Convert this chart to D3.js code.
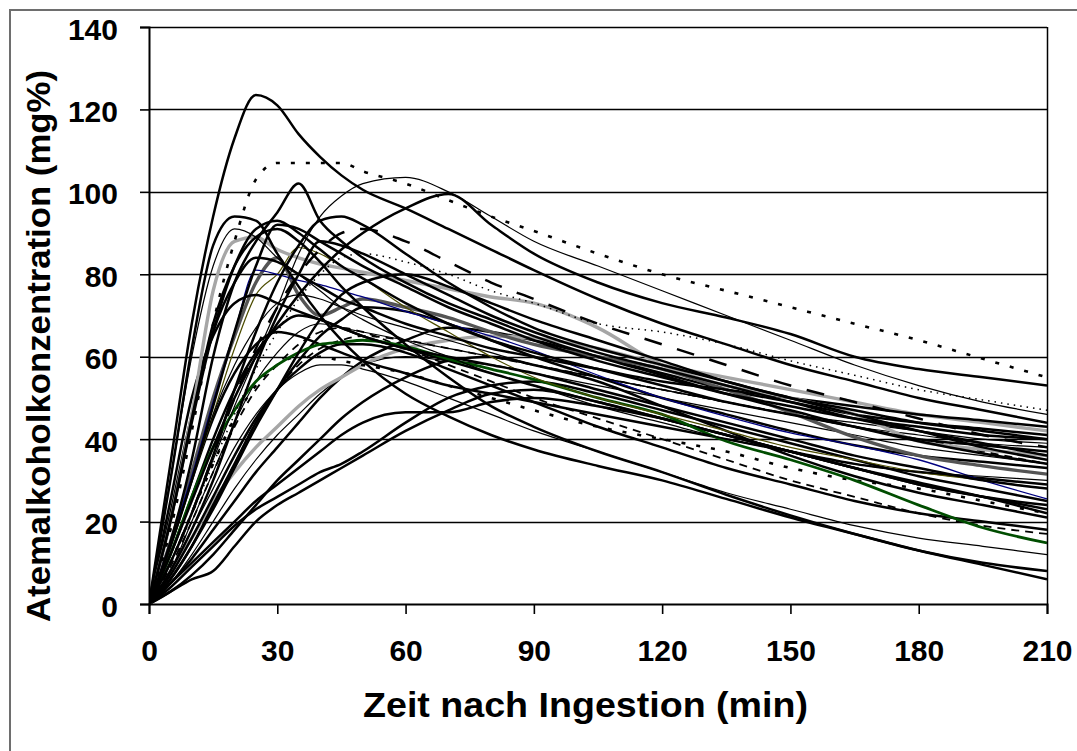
<!DOCTYPE html>
<html><head><meta charset="utf-8">
<script src="https://cdn.jsdelivr.net/npm/d3@7"></script>
<style>body{margin:0;background:#fff}svg{display:block}</style>
</head><body>
<svg id="chart" width="1077" height="751"></svg>
<script>
// ---- data ----
const times = [0,5,10,15,20,25,30,35,40,45,50,60,70,80,90,105,120,135,150,165,180,195,210];
const xTickValues = [0,30,60,90,120,150,180,210];
const yTickValues = [0,20,40,60,80,100,120,140];
const xTitle = "Zeit nach Ingestion (min)";
const yTitle = "Atemalkoholkonzentration (mg%)";

const s01 = [0,34,68,94,113,123.5,121,114,108.5,104,100.5,96,91,86,81,74,68,63,58,54,50,47,44];
const s02 = [0,18,42,68,88,103,107,107,107,107,105,102,98,94,90.5,85,80,76,72,68,64,59.5,55];
const s03 = [0,12,25,38,50,60,68,75,81,86,90,96,99.5,92,85,78,73,69.5,65.5,60,57,55,53];
const s04 = [0,10,22,35,48,60,72,85,94,99,102,103.5,100,94,88,82,76,70,64,58,53,49,46];
const s05 = [0,15,35,60,78,88,95,102,93,88,84,78,73,69,65,60,55.5,51,47,43,39.5,36.5,34];
const s06 = [0,30,62,87,94,93,85,77,70,64,59,51,45.5,41,37.5,33.5,30,25.5,21,17,13,9.5,6];
const s07 = [0,20,45,68,82,89,91,88,83,77,72,63,55,48,43,37,32,26.5,21.5,17,13,10,8];
const s08 = [0,20,46,76,88,89,86,84,82.5,81.5,80.5,78.5,76.5,74.5,73,67,58,53,50,46,39.5,37.5,36];
const s09 = [0,8,16,25,32,38,43,48,52,55,58,62,64,65,64.5,62,58,55,52,49,46,44,42];
const s10 = [0,15,32,50,65,78,84,75,70,72,74,72,69.5,66,63,60,57,52,46.5,40.5,36,33.5,31.5];
const s11 = [0,15,31,49,66,81,80,78.5,77.5,76,74.5,71,68,65,61.5,55.5,50,45.5,41.5,38.5,35,30,25.5];
const s12 = [0,12,26,38,47,54,58,61,63,63.5,64,62.5,59.5,57,54.5,50,46,39.5,35,30,24,18.5,14.8];
const s13 = [0,14,30,46,62,75,80,86.5,85,82,79,72,66,60,55,50,46,42,38,35,32,30,28];
const s14 = [0,14,30,48,66,82,92,91,88,85,82,77,72,68,64,59,55,51,48,45,43,41,40];
const s15 = [0,8,18,30,44,58,70,80,88,87,85,80,75,70,66,61,57,53,49,45,42,39,36];
const s16 = [0,10,22,36,52,66,78,87,93,94,92,85,78,72,67,62,58,54,50,47,44,42,40];
const s17 = [0,6,14,23,33,43,52,61,69,75,78,80,77,73,69,64,59,54,50,46,42,38,35];
const s18 = [0,12,26,40,52,61,67,70,69,67,65,62,59,56,53,49,45,41,37,33,29,26,24];
const s19 = [0,25,50,65,73,75,73,71,69,67,65,62,60,58,56,52,48,44,40,36,33,30,28];
const s20 = [0,8,20,32,44,54,61,66,68,67,66,64,62,60,58,55,52,49,46,43,41,39,38];
const s21 = [0,5,12,20,28,35,41,46,51,55,58,60,59,58,56,53,50,47,44,41,38,36,34];
const s22 = [0,10,22,36,50,62,72,80,86,90,91,88,83,78,74,68,63,58,53,49,45,41,38];
const s23 = [0,6,14,24,34,44,52,58,62,64,65,64,62,60,58,55,52,49,46,43,40,37,34];
const s24 = [0,10,22,34,46,57,66,74,80,84,85,83,80,76,73,68,66,63,59,55.5,52,49.5,47];
const s25 = [0,10,22,34,45,53,58,60,60,59,58,56,53,50,47,43,40,37,33,30,28,25,22];
const s26 = [0,9,20,32,43,52,58,63,66,67,66,62,58,54,50,45,40,35,30,26,22,19,17];
const s27 = [0,22,46,66,78,84,83,80,77,74,72,68,65,62,60,57,54,52,50,48,46,44.5,43];
const s28 = [0,5,11,18,25,32,38,44,50,55,59,64,67,66,64,60,56,52,49,46,44,42.5,41];
const s29 = [0,6,14,24,34,44,52,59,65,69,72,71,68,64,60,55,50,46,42,38.5,36,34.5,33];
const s30 = [0,14,30,45,56,63,66,65,63,61,59,56,53,51,49,46,43,40,37,34,32,30.5,29];
const s31 = [0,3,7,12,18,24,30,35,40,45,49,55,59,60,58,54,48,42,36,31,27,24,21];
const s32 = [0,7,16,26,36,45,52,57,61,63,63,61,57,53,49,43,38,33,29,25,22,20,18];
const s33 = [0,8,18,28,38,46,52,56,58,58,57,54,50,46,42,37,32,27,23,19,16,14,12];
const s34 = [0,14,30,46,58,67,73,75,74,72,70,67,64,61,58,55,52,49,46,44,42,40,39];
const s35 = [0,4,9,14,19,23,26,29,32,34,37,44,50,53,54,51,47,43,39,35,31,28,25];
const s36 = [0,30,60,82,91,89,84,80,76,72,69,64,60,56,53,48,44,40,37,34,32,31,30];
const s37 = [0,20,44,66,82,91,93,90,86,82,79,73,68,64,61,57,53,49,46,43,40,38.5,37];
const s38 = [0,5,10,15,20,25,29,33,37,41,44,46.5,46.5,49,50,48,45,41,37,33,29.5,26,22];
const s39 = [0,3,6,8,14,20,24,27,30,33,36,42,47,51,52,49,45,41,37,33,29,26,23];

// ---- styles (not data) ----
const styles = {
  k2:   {stroke:"#000", w:2.5, dash:null},
  k1:   {stroke:"#000", w:1.2, dash:null},
  dot:  {stroke:"#000", w:2.6, dash:"4,11"},
  fdot: {stroke:"#000", w:1.5, dash:"1.5,5"},
  dash: {stroke:"#000", w:2.5, dash:"18,16"},
  sdash:{stroke:"#000", w:1.8, dash:"8,6"},
  gray: {stroke:"#a6a6a6", w:3.4, dash:null},
  dgray:{stroke:"#555555", w:3.4, dash:null},
  blue: {stroke:"#000080", w:1.3, dash:null},
  green:{stroke:"#004d00", w:2.8, dash:null},
  olive:{stroke:"#4d4d00", w:1.2, dash:null}
};
const series = [
  [s35,"k2"],[s39,"k2"],[s38,"k2"],[s31,"k2"],[s28,"k2"],[s21,"k1"],[s33,"k1"],
  [s09,"gray"],[s25,"dot"],[s26,"sdash"],[s23,"sdash"],[s32,"k2"],[s29,"k2"],
  [s20,"k1"],[s18,"k2"],[s30,"k2"],[s12,"green"],[s10,"dgray"],[s13,"olive"],
  [s11,"blue"],[s19,"k2"],[s34,"k1"],[s27,"k2"],[s08,"gray"],[s17,"k2"],
  [s15,"k2"],[s22,"dash"],[s24,"fdot"],[s14,"k2"],[s16,"k2"],[s37,"k2"],
  [s36,"k1"],[s07,"k2"],[s06,"k2"],[s05,"k2"],[s04,"k1"],[s03,"k2"],[s02,"dot"],[s01,"k2"]
];

// ---- chart ----
const svg = d3.select("#chart");
const FONT = "'Liberation Sans', Arial, sans-serif";
const L = 149, R = 1047, T = 27, B = 604;
const x = d3.scaleLinear().domain([0,210]).range([L,R]);
const y = d3.scaleLinear().domain([0,140]).range([B,T]);

svg.append("rect").attr("x",10).attr("y",10).attr("width",1200).attr("height",900)
  .attr("fill","#fff").attr("stroke","#6e6e6e").attr("stroke-width",2);

// gridlines
svg.append("g").selectAll("line").data(yTickValues.filter(d=>d>0)).join("line")
  .attr("x1",L).attr("x2",R).attr("y1",d=>Math.round(y(d))+0.5).attr("y2",d=>Math.round(y(d))+0.5)
  .attr("stroke","#000").attr("stroke-width",1.3);

// lines
const clipId = "plotclip";
svg.append("clipPath").attr("id",clipId).append("rect").attr("x",L).attr("y",T-5).attr("width",R-L).attr("height",B-T+5);
const lineGen = d3.line().x((d,i)=>x(times[i])).y(d=>y(d)).curve(d3.curveMonotoneX);
const gl = svg.append("g").attr("clip-path",`url(#${clipId})`);
series.forEach(([vals,st])=>{
  const s = styles[st];
  gl.append("path").attr("d",lineGen(vals)).attr("fill","none")
    .attr("stroke",s.stroke).attr("stroke-width",s.w)
    .attr("stroke-dasharray",s.dash).attr("stroke-linejoin","round");
});

// right border
svg.append("line").attr("x1",R+0.5).attr("x2",R+0.5).attr("y1",T).attr("y2",B)
  .attr("stroke","#000").attr("stroke-width",1.5);

// axes
const xAxis = d3.axisBottom(x).tickValues(xTickValues).tickSize(10).tickPadding(26);
const gx = svg.append("g").attr("transform",`translate(0,${B})`).call(xAxis);
gx.select(".domain").attr("stroke","#000").attr("stroke-width",2);
gx.selectAll(".tick line").attr("stroke","#000").attr("stroke-width",1.6);
gx.selectAll("text").attr("font-family",FONT).attr("font-weight","bold").attr("font-size",30).attr("fill","#000");

const yAxis = d3.axisLeft(y).tickValues(yTickValues).tickSize(9).tickPadding(22);
const gy = svg.append("g").attr("transform",`translate(${L},0)`).call(yAxis);
gy.select(".domain").attr("stroke","#000").attr("stroke-width",2);
gy.selectAll(".tick line").attr("stroke","#000").attr("stroke-width",1.6);
gy.selectAll("text").attr("font-family",FONT).attr("font-weight","bold").attr("font-size",30).attr("fill","#000").attr("dy","0.4em");

// titles
svg.append("text").attr("x",(363+808)/2).attr("y",717).attr("text-anchor","middle")
  .attr("font-family",FONT).attr("font-weight","bold").attr("font-size",35)
  .attr("textLength",445).attr("lengthAdjust","spacingAndGlyphs").text(xTitle);
svg.append("text").attr("transform","translate(50,346) rotate(-90)").attr("text-anchor","middle")
  .attr("font-family",FONT).attr("font-weight","bold").attr("font-size",34)
  .attr("textLength",552).attr("lengthAdjust","spacingAndGlyphs").text(yTitle);
</script>
</body></html>
